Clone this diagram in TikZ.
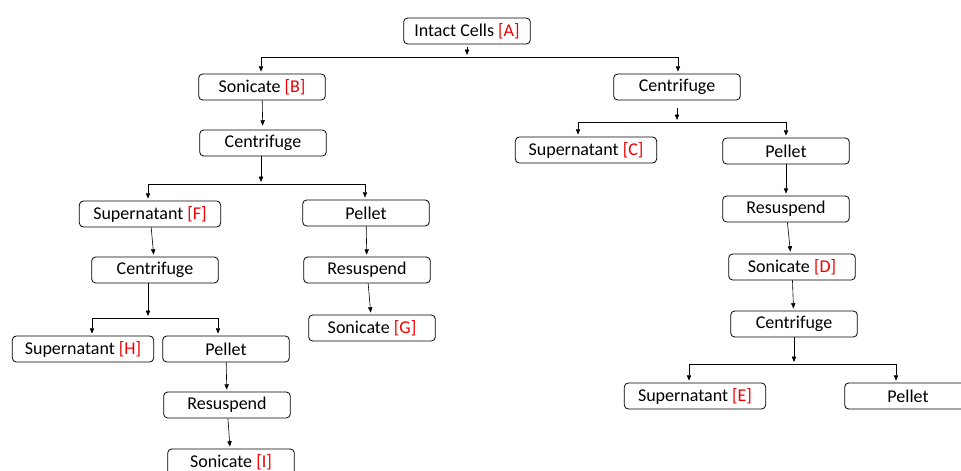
\documentclass[tikz,border=0pt]{standalone}
\usepackage{fontspec}
\setmainfont{Carlito}
\usetikzlibrary{arrows.meta, calc}
\definecolor{tagred}{RGB}{240,0,0}

\begin{document}
\begin{tikzpicture}[
    x=0.75pt, y=-0.75pt,
    box/.style={draw, rounded corners=3pt, line width=0.6pt, minimum width=95pt, minimum height=19.5pt, inner sep=0pt, align=center, font=\fontsize{13.5}{15}\selectfont},
    widebox/.style={box, minimum width=106pt},
    arrow/.style={-{Triangle[length=4pt, width=3.2pt]}, line width=0.45pt, shorten >=1.5pt},
    bar/.style={line width=0.45pt}
]
\useasboundingbox (0,0) rectangle (961,471);

\newcommand{\tag}[1]{\textcolor{tagred}{[#1]}}

% --- Top ---
\node[box] (cells) at (467,31) {Intact Cells \tag{A}};

% --- Left branch ---
\node[box] (son_b) at (262,87) {Sonicate \tag{B}};
\node[box] (cen_l1) at (263,143) {Centrifuge};
\node[widebox] (sup_f) at (150,214) {Supernatant \tag{F}};
\node[box] (pel_l1) at (366,213) {Pellet};
\node[box] (cen_l2) at (155,270) {Centrifuge};
\node[box] (res_l1) at (367,270) {Resuspend};
\node[box] (son_g) at (372,328) {Sonicate \tag{G}};
\node[widebox] (sup_h) at (83,349) {Supernatant \tag{H}};
\node[box] (pel_l2) at (226,349) {Pellet};
\node[box] (res_l2) at (227,405) {Resuspend};
\node[box] (son_i) at (231,462) {Sonicate \tag{I}};

% --- Right branch ---
\node[box] (cen_r1) at (677,87) {Centrifuge};
\node[widebox] (sup_c) at (586,150) {Supernatant \tag{C}};
\node[box] (pel_r1) at (786,151) {Pellet};
\node[box] (res_r1) at (786,209) {Resuspend};
\node[box] (son_d) at (792,267) {Sonicate \tag{D}};
\node[box] (cen_r2) at (794,324) {Centrifuge};
\node[widebox] (sup_e) at (695,396) {Supernatant \tag{E}};
\node[box] (pel_r2) at (908,396) {Pellet};

% --- Splits ---
\coordinate (j_a) at (467,57);   \coordinate (j_a_l) at (261,57);   \coordinate (j_a_r) at (678,57);
\coordinate (j_r1) at (677,122); \coordinate (j_r1_l) at (578,122); \coordinate (j_r1_r) at (786,122);
\coordinate (j_l1) at (261,184); \coordinate (j_l1_l) at (148,184); \coordinate (j_l1_r) at (365,184);
\coordinate (j_l2) at (148,318); \coordinate (j_l2_l) at (92,318);  \coordinate (j_l2_r) at (218,318);
\coordinate (j_r2) at (794,364); \coordinate (j_r2_l) at (689,364); \coordinate (j_r2_r) at (896,364);

\draw[arrow, shorten <=2pt] (j_a |- cells.south) -- (j_a);
\draw[bar] (j_a_l) -- (j_a_r);
\draw[arrow] (j_a_l) -- (j_a_l |- son_b.north);
\draw[arrow] (j_a_r) -- (j_a_r |- cen_r1.north);

\draw[arrow, shorten <=6pt] (j_r1 |- cen_r1.south) -- (j_r1);
\draw[bar] (j_r1_l) -- (j_r1_r);
\draw[arrow] (j_r1_l) -- (j_r1_l |- sup_c.north);
\draw[arrow] (j_r1_r) -- (j_r1_r |- pel_r1.north);

\draw[arrow] (j_l1 |- cen_l1.south) -- (j_l1);
\draw[bar] (j_l1_l) -- (j_l1_r);
\draw[arrow] (j_l1_l) -- (j_l1_l |- sup_f.north);
\draw[arrow] (j_l1_r) -- (j_l1_r |- pel_l1.north);

\draw[arrow] (j_l2 |- cen_l2.south) -- (j_l2);
\draw[bar] (j_l2_l) -- (j_l2_r);
\draw[arrow] (j_l2_l) -- (j_l2_l |- sup_h.north);
\draw[arrow] (j_l2_r) -- (j_l2_r |- pel_l2.north);

\draw[arrow] (j_r2 |- cen_r2.south) -- (j_r2);
\draw[bar] (j_r2_l) -- (j_r2_r);
\draw[arrow] (j_r2_l) -- (j_r2_l |- sup_e.north);
\draw[arrow] (j_r2_r) -- (j_r2_r |- pel_r2.north);

% --- Straight steps ---
\draw[arrow, shorten >=3pt] (son_b) -- (cen_l1);
\draw[arrow] (sup_f) -- (cen_l2);
\draw[arrow] (pel_l1) -- (res_l1);
\draw[arrow] (res_l1) -- (son_g);
\draw[arrow] (pel_l2) -- (res_l2);
\draw[arrow] (res_l2) -- (son_i);
\draw[arrow] (pel_r1) -- (res_r1);
\draw[arrow] (res_r1) -- (son_d);
\draw[arrow] (son_d) -- (cen_r2);

\end{tikzpicture}
\end{document}
